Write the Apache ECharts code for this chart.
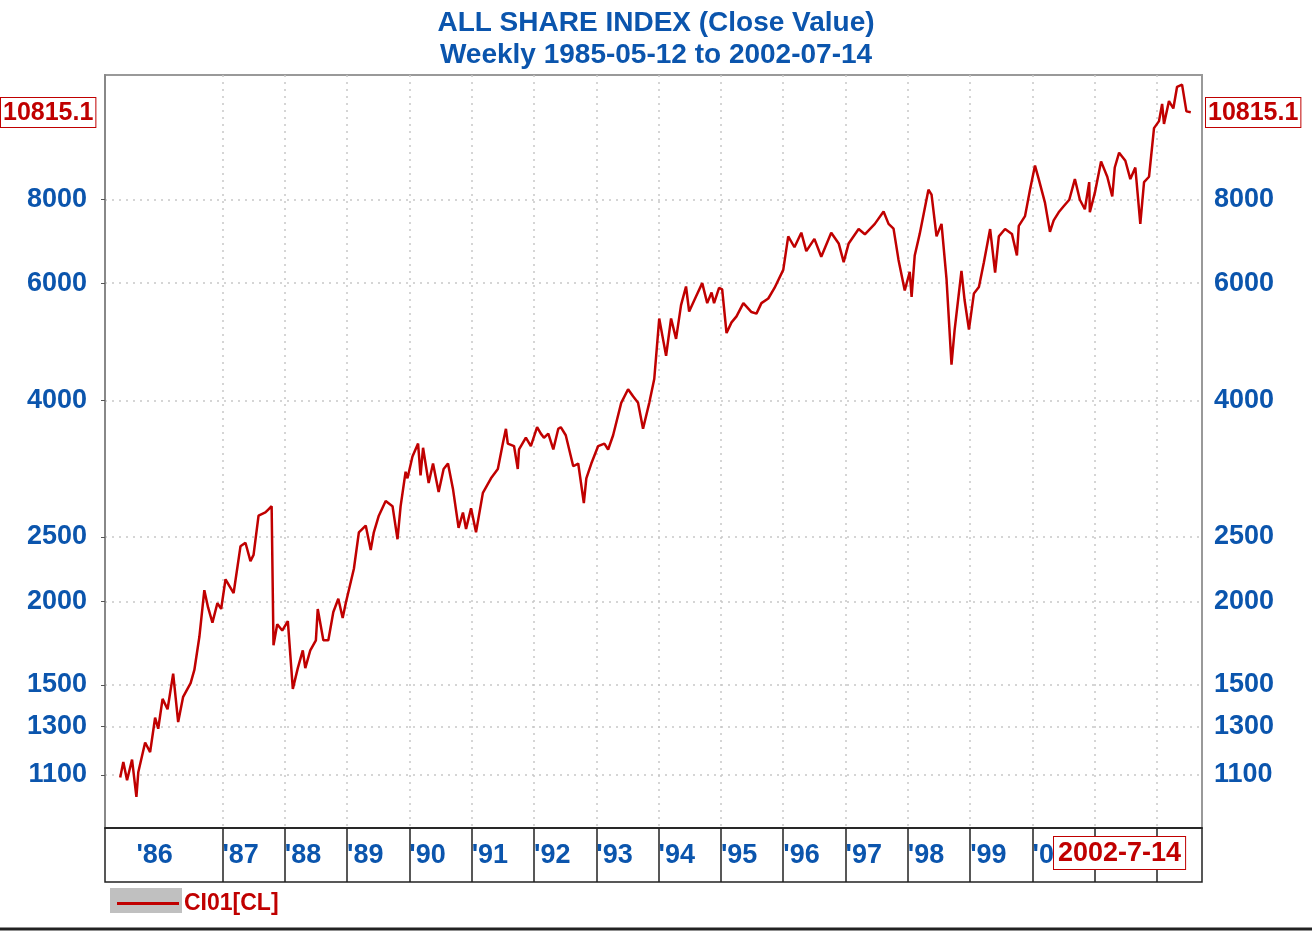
<!DOCTYPE html>
<html><head><meta charset="utf-8">
<script src="https://cdn.jsdelivr.net/npm/echarts@6/dist/echarts.min.js"></script>
<style>html,body{margin:0;padding:0;background:#fff}#c{width:1312px;height:934px}</style>
</head><body><div id="c"></div>
<script>
const dates = [1985.36,1985.41,1985.47,1985.55,1985.62,1985.65,1985.76,1985.84,1985.92,1985.97,
1986.04,1986.12,1986.21,1986.29,1986.37,1986.49,1986.55,1986.63,1986.71,1986.77,1986.84,1986.92,1986.98,
1987.05,1987.18,1987.29,1987.37,1987.45,1987.50,1987.58,1987.69,1987.74,1987.79,1987.82,1987.88,1987.96,
1988.05,1988.13,1988.21,1988.29,1988.33,1988.41,1988.50,1988.53,1988.62,1988.70,1988.78,1988.86,1988.93,1988.98,
1989.11,1989.19,1989.30,1989.38,1989.43,1989.51,1989.62,1989.73,1989.81,1989.86,1989.94,1989.97,
1990.05,1990.14,1990.18,1990.22,1990.31,1990.38,1990.47,1990.55,1990.62,1990.70,1990.79,1990.86,1990.91,1990.99,
1991.07,1991.18,1991.31,1991.42,1991.50,1991.55,1991.58,1991.68,1991.74,1991.76,1991.87,1991.95,
1992.05,1992.11,1992.16,1992.23,1992.31,1992.39,1992.43,1992.51,1992.63,1992.71,1992.80,1992.84,1992.92,
1993.03,1993.13,1993.19,1993.27,1993.40,1993.51,1993.59,1993.67,1993.75,1993.85,1993.93,
1994.01,1994.07,1994.12,1994.20,1994.28,1994.36,1994.44,1994.49,1994.60,1994.70,1994.78,1994.85,1994.89,1994.97,
1995.02,1995.09,1995.17,1995.25,1995.36,1995.49,1995.57,1995.65,1995.76,1995.86,
1996.00,1996.08,1996.18,1996.29,1996.37,1996.50,1996.61,1996.77,1996.89,1996.97,
1997.05,1997.21,1997.31,1997.47,1997.61,1997.69,1997.77,1997.85,1997.95,
1998.03,1998.06,1998.11,1998.19,1998.33,1998.38,1998.46,1998.54,1998.62,1998.70,1998.75,1998.86,1998.91,1998.98,
1999.06,1999.14,1999.22,1999.32,1999.40,1999.46,1999.56,1999.67,1999.75,1999.78,1999.88,1999.96,
2000.04,2000.10,2000.20,2000.28,2000.34,2000.42,2000.50,2000.59,2000.68,2000.76,2000.84,2000.91,2000.92,
2001.00,2001.10,2001.20,2001.28,2001.32,2001.39,2001.49,2001.57,2001.65,2001.73,2001.79,2001.87,2001.95,
2002.03,2002.08,2002.11,2002.19,2002.26,2002.32,2002.40,2002.47,2002.54];
const closeValues = [1090,1150,1080,1160,1020,1110,1230,1190,1340,1290,
1430,1380,1560,1320,1440,1510,1580,1770,2080,1960,1860,1990,1950,
2160,2060,2420,2450,2300,2350,2690,2720,2750,2780,1720,1850,1810,
1870,1480,1590,1690,1590,1690,1750,1950,1750,1750,1930,2020,1890,1990,
2240,2540,2600,2390,2540,2690,2830,2780,2480,2780,3130,3060,
3300,3450,3090,3400,3010,3220,2920,3160,3220,2950,2580,2720,2570,2760,
2540,2910,3060,3160,3450,3630,3450,3420,3160,3380,3520,3420,
3650,3570,3520,3570,3380,3630,3650,3550,3190,3220,2810,3060,3220,
3420,3450,3380,3550,3970,4160,4060,3970,3630,3970,4310,
5310,4950,4670,5310,4950,5560,5930,5440,5730,6000,5600,5810,5600,5900,
5870,5050,5240,5350,5600,5430,5400,5600,5690,5900,
6280,7050,6790,7140,6700,6990,6570,7140,6880,6450,
6880,7230,7100,7360,7680,7360,7240,6500,5850,
6240,5720,6600,7110,8280,8140,7050,7360,6090,4530,5100,6260,5660,5110,
5790,5920,6450,7230,6220,7050,7230,7110,6600,7310,7560,8280,
9000,8590,7920,7160,7450,7660,7820,8000,8590,8000,7740,8500,7660,
8190,9130,8660,8090,8940,9410,9150,8590,8940,7360,8500,8660,10240,
10490,11130,10390,11240,10960,11810,11900,10850,10815.1];
const yTicks = [1100,1300,1500,2000,2500,4000,6000,8000];
const yearBounds = [1987,1988,1989,1990,1991,1992,1993,1994,1995,1996,1997,1998,1999,2000,2001,2002];
const yearLabelPos = [1985.62,1987.0,1988.0,1989.0,1990.0,1991.0,1992.0,1993.0,1994.0,1995.0,1996.0,1997.0,1998.0,1999.0,2000.0,2001.0];
const yearLabels = ["'86","'87","'88","'89","'90","'91","'92","'93","'94","'95","'96","'97","'98","'99","'00","'01"];
const lastValueText = "10815.1";
const lastDateText = "2002-7-14";
const seriesName = "CI01[CL]";

const blue = '#0b55ad', red = '#c00000';
const font = '"Liberation Sans", Arial, sans-serif';
const chart = echarts.init(document.getElementById('c'));
const yAxisBase = {
  type: 'log', logBase: 10, min: 916, max: 12300,
  axisLine: {show: true, lineStyle: {color: '#888', width: 2}},
  axisTick: {show: true, customValues: yTicks, length: 4, lineStyle: {color: '#555'}},
  axisLabel: {customValues: yTicks, color: blue, fontWeight: 'bold', fontSize: 27, fontFamily: font, formatter: v => String(Math.round(v))},
  splitLine: {show: false}
};
chart.setOption({
  animation: false,
  title: {text: 'ALL SHARE INDEX (Close Value)\nWeekly 1985-05-12 to 2002-07-14', left: 651, textAlign: 'center', top: 2,
    textStyle: {color: blue, fontWeight: 'bold', fontSize: 28, fontFamily: font, lineHeight: 32}},
  legend: {left: 112, top: 887, itemWidth: 62, itemHeight: 3, icon: 'rect', itemGap: 4,
    textStyle: {color: red, fontWeight: 'bold', fontSize: 23, fontFamily: font}, data: [seriesName]},
  grid: {left: 105, right: 110, top: 75, bottom: 106, show: true, borderColor: '#999', borderWidth: 2},
  xAxis: {type: 'value', min: 1985.116, max: 2002.72,
    axisLine: {show: true, lineStyle: {color: '#222', width: 1.5}},
    axisTick: {show: true, customValues: yearBounds, inside: false, length: 54, lineStyle: {color: '#222', width: 1.5}},
    axisLabel: {customValues: yearLabelPos, margin: 14, align: 'left', color: blue, fontWeight: 'bold', fontSize: 27, fontFamily: font,
      formatter: v => { const i = yearLabelPos.findIndex(p => Math.abs(p - v) < 0.01); return i >= 0 ? yearLabels[i] : ''; }},
    splitLine: {show: true, lineStyle: {color: '#c8c8c8', type: [2, 5], width: 1.5}}},
  yAxis: [
    Object.assign({}, yAxisBase, {position: 'left', axisLabel: Object.assign({}, yAxisBase.axisLabel, {margin: 18}),
      splitLine: {show: true, lineStyle: {color: '#c8c8c8', type: [2, 5], width: 1.5}}}),
    Object.assign({}, yAxisBase, {position: 'right', axisLine: {show: false}, axisTick: {show: false},
      axisLabel: Object.assign({}, yAxisBase.axisLabel, {margin: 12})})
  ],
  series: [{name: seriesName, type: 'line', showSymbol: false, symbol: 'none',
    data: dates.map((d, i) => [d, closeValues[i]]),
    lineStyle: {color: red, width: 2.5}, itemStyle: {color: red}}],
  graphic: [
    {type: 'rect', shape: {x: 105, y: 828, width: 1097, height: 54}, style: {fill: 'none', stroke: '#222', lineWidth: 1.5}, z: 10},
    {type: 'rect', shape: {x: 110, y: 888, width: 72, height: 25}, style: {fill: '#c0c0c0'}, z: 0},
    {type: 'line', shape: {x1: 0, y1: 929, x2: 1312, y2: 929}, style: {stroke: '#222', lineWidth: 3}},
    {type: 'text', left: 1053, top: 836, z: 20, style: {text: lastDateText, fill: red, font: 'bold 27px ' + font,
      backgroundColor: '#fff', borderColor: red, borderWidth: 1, padding: [3, 4, 2, 4]}},
    {type: 'text', left: 0, top: 97, z: 20, style: {text: lastValueText, fill: red, font: 'bold 25px ' + font,
      backgroundColor: '#fff', borderColor: red, borderWidth: 1, padding: [3, 2, 1, 2]}},
    {type: 'text', left: 1205, top: 97, z: 20, style: {text: lastValueText, fill: red, font: 'bold 25px ' + font,
      backgroundColor: '#fff', borderColor: red, borderWidth: 1, padding: [3, 2, 1, 2]}}
  ]
});
</script></body></html>
